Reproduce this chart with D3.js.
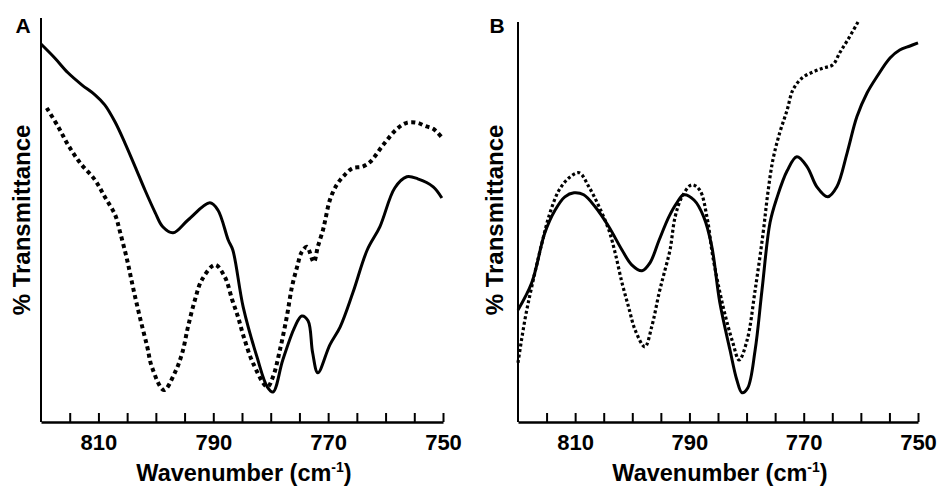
<!DOCTYPE html>
<html>
<head>
<meta charset="utf-8">
<script src="https://cdn.jsdelivr.net/npm/d3@7"></script>
<style>
  body { margin: 0; background: #fff; }
  svg { display: block; }
  text { font-family: "Liberation Sans", Arial, Helvetica, sans-serif; font-weight: bold; fill: #000; }
</style>
</head>
<body>
<svg id="chart" width="939" height="491"></svg>
<script>
// wavenumber ticks (every 5 cm-1, labels every 20)
const tickValues = [815, 810, 805, 800, 795, 790, 785, 780, 775, 770, 765, 760, 755, 750];
const tickLabels = [810, 790, 770, 750];

// panel A, [wavenumber, %T (arbitrary)]
const aSolid = [
  [820.0, 94.5], [817.6, 91.0], [815.3, 87.3], [812.9, 84.3], [810.6, 81.8], [808.9, 79.3],
  [807.1, 75.0], [805.4, 69.8], [803.6, 63.8], [801.9, 58.0], [800.1, 52.3], [798.8, 48.8],
  [797.0, 47.3], [794.4, 50.5], [790.6, 54.8], [789.2, 53.0], [787.4, 45.5], [786.6, 43.0],
  [784.8, 28.8], [782.4, 16.3], [780.6, 8.8], [779.6, 7.5], [777.9, 15.5], [775.8, 23.8],
  [774.6, 26.5], [773.5, 25.3], [772.7, 17.3], [771.8, 12.3], [769.7, 19.3], [767.9, 23.8],
  [765.7, 32.3], [763.2, 43.0], [761.0, 48.8], [758.4, 58.5], [756.3, 61.3], [754.4, 60.8],
  [751.7, 58.8], [750.2, 56.0]
];
const aDotted = [
  [819.0, 78.5], [817.0, 73.8], [815.3, 69.3], [813.2, 64.8], [810.6, 60.5], [808.9, 56.3],
  [807.1, 51.8], [806.2, 47.3], [805.0, 40.5], [804.0, 33.8], [802.8, 26.3], [801.5, 18.8],
  [800.7, 13.8], [798.6, 8.0], [796.7, 12.3], [795.4, 17.3], [794.4, 23.8], [793.2, 30.5],
  [792.0, 35.5], [789.7, 39.3], [788.0, 36.3], [786.7, 30.5], [785.7, 26.3], [784.7, 21.3],
  [783.1, 14.8], [780.6, 8.8], [779.6, 11.3], [778.4, 18.0], [777.2, 26.3], [776.3, 33.8],
  [775.4, 38.8], [774.6, 42.5], [773.7, 43.8], [772.5, 40.0], [771.8, 43.8], [770.9, 48.0],
  [770.5, 50.5], [769.7, 55.5], [768.5, 59.3], [767.1, 61.8], [765.7, 63.5], [764.1, 63.8],
  [762.7, 65.0], [760.4, 69.3], [758.0, 73.3], [756.3, 74.8], [754.5, 74.8], [753.1, 74.0],
  [751.7, 73.3], [750.3, 71.3]
];

// panel B
const bSolid = [
  [820.0, 28.0], [817.6, 34.8], [815.3, 47.3], [813.5, 53.0], [811.8, 56.3], [810.2, 57.3],
  [808.5, 56.8], [806.5, 53.8], [804.1, 48.8], [801.8, 43.0], [800.1, 39.3], [798.3, 37.8],
  [796.9, 39.8], [795.3, 45.5], [793.6, 51.3], [792.2, 54.8], [791.0, 56.8], [789.2, 55.5],
  [787.5, 51.3], [786.1, 44.0], [784.7, 30.0], [782.9, 18.0], [781.7, 10.5], [780.8, 7.3],
  [779.8, 8.5], [778.5, 18.0], [777.3, 33.0], [775.9, 49.8], [774.7, 56.0], [772.9, 62.8],
  [771.2, 66.3], [769.4, 63.8], [767.7, 58.8], [765.8, 56.3], [764.2, 58.8], [762.4, 67.3],
  [760.7, 76.3], [758.9, 82.3], [757.2, 86.3], [754.9, 91.0], [753.2, 93.0], [751.4, 94.0],
  [750.0, 94.8]
];
const bDotted = [
  [820.0, 14.8], [818.8, 25.5], [817.6, 33.8], [815.8, 44.8], [814.4, 52.3], [812.8, 58.0],
  [811.1, 61.0], [809.3, 62.3], [807.6, 58.8], [805.8, 53.8], [804.1, 48.0], [803.0, 42.3],
  [801.8, 34.8], [800.6, 28.5], [799.5, 23.0], [797.8, 18.8], [796.6, 23.8], [795.3, 32.3],
  [794.5, 36.8], [793.4, 43.0], [792.5, 51.3], [791.3, 56.3], [789.6, 59.3], [788.2, 58.0],
  [786.9, 51.0], [785.9, 41.3], [784.1, 28.8], [782.4, 19.8], [781.3, 15.5], [779.9, 20.5],
  [778.5, 33.0], [777.1, 47.3], [776.3, 57.0], [775.4, 65.5], [774.2, 72.3], [772.9, 78.0],
  [771.9, 83.0], [770.3, 86.0], [768.4, 87.5], [766.6, 88.5], [764.9, 89.3], [763.7, 92.3],
  [762.3, 95.5], [760.5, 100.0]
];

const svg = d3.select("#chart");
const yBottom = 422;

function drawPanel(opts) {
  const x = d3.scaleLinear().domain([820, 750]).range([opts.left, opts.right]);
  const y = d3.scaleLinear().domain([0, 100]).range([yBottom, 22]);
  const g = svg.append("g");

  // y axis: plain line, no ticks
  g.append("line")
    .attr("x1", x(820)).attr("x2", x(820))
    .attr("y1", yBottom).attr("y2", opts.axisTop)
    .attr("stroke", "#000").attr("stroke-width", 2);

  // x axis with inward ticks
  const xAxis = d3.axisBottom(x)
    .tickValues(tickValues)
    .tickSizeInner(-9)
    .tickSizeOuter(0)
    .tickPadding(12)
    .tickFormat((d) => (tickLabels.includes(d) ? d : ""));
  const ax = g.append("g")
    .attr("transform", `translate(0,${yBottom})`)
    .call(xAxis);
  ax.select(".domain").attr("stroke-width", 2.5);
  ax.selectAll(".tick line").attr("stroke-width", 2);
  ax.selectAll(".tick text")
    .style("font-family", '"Liberation Sans", Arial, sans-serif')
    .style("font-weight", "bold")
    .style("font-size", "22px");

  const line = d3.line()
    .x((d) => x(d[0]))
    .y((d) => y(d[1]))
    .curve(d3.curveCatmullRom.alpha(0.5));

  g.append("path")
    .datum(opts.dotted)
    .attr("fill", "none")
    .attr("stroke", "#000")
    .attr("stroke-width", opts.dotWidth)
    .attr("stroke-dasharray", opts.dash)
    .attr("d", line);

  g.append("path")
    .datum(opts.solid)
    .attr("fill", "none")
    .attr("stroke", "#000")
    .attr("stroke-width", 3)
    .attr("stroke-linejoin", "round")
    .attr("d", line);

  // panel letter
  g.append("text")
    .attr("x", opts.letterX)
    .attr("y", 33)
    .attr("text-anchor", "middle")
    .style("font-size", "21px")
    .text(opts.letter);

  // y title
  g.append("text")
    .attr("transform", `translate(${opts.yTitleX},220) rotate(-90)`)
    .attr("text-anchor", "middle")
    .style("font-size", "24px")
    .text("% Transmittance");

  // x title
  const xt = g.append("text")
    .attr("x", (opts.left + opts.right) / 2 + 2)
    .attr("y", 481)
    .attr("text-anchor", "middle")
    .style("font-size", "23.5px");
  xt.append("tspan").text("Wavenumber (cm");
  xt.append("tspan").attr("dy", -9).style("font-size", "14px").text("-1");
  xt.append("tspan").attr("dy", 9).text(")");
}

drawPanel({
  left: 41, right: 443, axisTop: 18,
  solid: aSolid, dotted: aDotted,
  dotWidth: 4, dash: "4 3.5",
  letter: "A", letterX: 23, yTitleX: 30
});

drawPanel({
  left: 518, right: 918, axisTop: 22,
  solid: bSolid, dotted: bDotted,
  dotWidth: 3.2, dash: "3 2.5",
  letter: "B", letterX: 497, yTitleX: 503
});
</script>
</body>
</html>
